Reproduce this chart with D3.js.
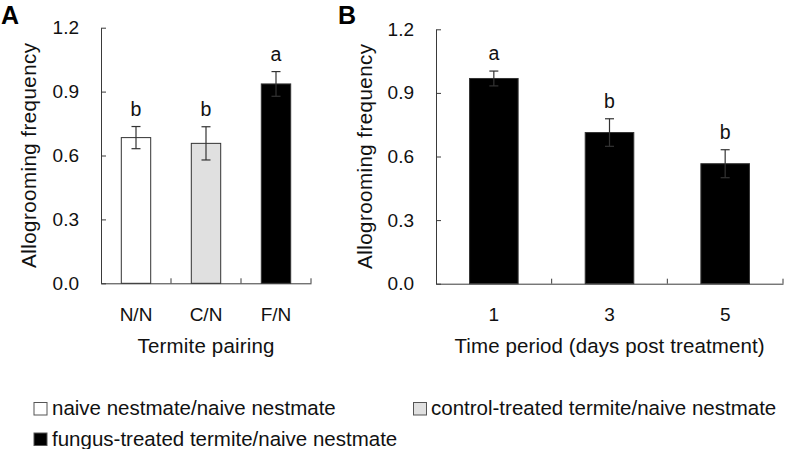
<!DOCTYPE html>
<html>
<head>
<meta charset="utf-8">
<script src="https://cdn.jsdelivr.net/npm/d3@7/dist/d3.min.js"></script>
<style>
  html, body { margin: 0; padding: 0; background: #fff; }
  svg { display: block; font-family: "Liberation Sans", Arial, sans-serif; }
</style>
</head>
<body>
<svg id="chart" width="787" height="449"></svg>
<script>
// ---- Data ----
const categoriesA = ["N/N", "C/N", "F/N"];
const meansA = [0.684, 0.657, 0.936];
const errorsA = [0.052, 0.078, 0.058];
const lettersA = ["b", "b", "a"];

const categoriesB = ["1", "3", "5"];
const meansB = [0.968, 0.713, 0.566];
const errorsB = [0.035, 0.065, 0.066];
const lettersB = ["a", "b", "b"];

const yTicks = [0, 0.3, 0.6, 0.9, 1.2];
const yTickLabels = ["0.0", "0.3", "0.6", "0.9", "1.2"];

const legendLabels = [
  "naive nestmate/naive nestmate",
  "control-treated termite/naive nestmate",
  "fungus-treated termite/naive nestmate"
];

// ---- Styles ----
const fillA = d3.scaleOrdinal().domain(categoriesA).range(["#ffffff", "#e0e0e0", "#000000"]);
const fillB = () => "#000000";
const axisColor = "#3a3a3a";

const svg = d3.select("#chart");

function panel(opts) {
  const { cats, means, errs, letters, fill, xRange, yRange, panelLetter, letterX, ylabX, xTitle, xTitleLen } = opts;
  const g = svg.append("g");
  const x = d3.scaleBand().domain(cats).range(xRange).padding(0);
  const y = d3.scaleLinear().domain([0, 1.2]).range(yRange);
  const bw = x.bandwidth() * 0.42;

  // bars
  g.selectAll("rect.bar").data(cats).join("rect")
    .attr("class", "bar")
    .attr("x", (c) => x(c) + (x.bandwidth() - bw) / 2)
    .attr("y", (c, i) => y(means[i]))
    .attr("width", bw)
    .attr("height", (c, i) => y(0) - y(means[i]))
    .attr("fill", (c) => fill(c))
    .attr("stroke", "#333")
    .attr("stroke-width", 1);

  // error bars
  const eg = g.selectAll("g.err").data(cats).join("g").attr("class", "err")
    .attr("stroke", "#333").attr("stroke-width", 1.2);
  eg.append("line")
    .attr("x1", (c) => x(c) + x.bandwidth() / 2)
    .attr("x2", (c) => x(c) + x.bandwidth() / 2)
    .attr("y1", (c, i) => y(means[i] - errs[i]))
    .attr("y2", (c, i) => y(means[i] + errs[i]));
  [1, -1].forEach((s) => {
    eg.append("line")
      .attr("x1", (c) => x(c) + x.bandwidth() / 2 - 4.5)
      .attr("x2", (c) => x(c) + x.bandwidth() / 2 + 4.5)
      .attr("y1", (c, i) => y(means[i] + s * errs[i]))
      .attr("y2", (c, i) => y(means[i] + s * errs[i]));
  });

  // significance letters
  g.selectAll("text.sig").data(cats).join("text")
    .attr("class", "sig")
    .attr("x", (c) => x(c) + x.bandwidth() / 2)
    .attr("y", (c, i) => y(means[i] + errs[i]) - 11)
    .attr("text-anchor", "middle")
    .attr("font-size", 19.5)
    .attr("fill", "#111")
    .text((c, i) => letters[i]);

  // y axis
  const yAxis = d3.axisLeft(y).tickValues(yTicks)
    .tickFormat((d, i) => yTickLabels[i])
    .tickSizeInner(-5).tickSizeOuter(0).tickPadding(22);
  const ya = g.append("g").attr("transform", `translate(${xRange[0]},0)`).call(yAxis);
  ya.select(".domain").attr("stroke", axisColor);
  ya.selectAll(".tick line").attr("stroke", axisColor);
  ya.selectAll(".tick text").attr("font-size", 19).attr("fill", "#111")
    .attr("font-family", "Liberation Sans, Arial, sans-serif");

  // x axis
  const xAxis = d3.axisBottom(x).tickSize(0).tickPadding(24).tickSizeOuter(0);
  const xa = g.append("g").attr("transform", `translate(0,${y(0)})`).call(xAxis);
  xa.select(".domain").attr("stroke", axisColor);
  xa.selectAll(".tick text").attr("font-size", 19).attr("fill", "#111")
    .attr("font-family", "Liberation Sans, Arial, sans-serif");
  // boundary ticks (pointing up, inside)
  const bounds = cats.slice(1).map((c) => x(c)).concat([xRange[1]]);
  g.selectAll("line.bt").data(bounds).join("line")
    .attr("class", "bt")
    .attr("x1", (d) => d).attr("x2", (d) => d)
    .attr("y1", y(0)).attr("y2", y(0) - 5)
    .attr("stroke", axisColor);

  // axis titles
  g.append("text")
    .attr("x", (xRange[0] + xRange[1]) / 2)
    .attr("y", 353)
    .attr("text-anchor", "middle")
    .attr("font-size", 20.5)
    .attr("fill", "#111")
    .attr("textLength", xTitleLen)
    .attr("lengthAdjust", "spacing")
    .text(xTitle);

  const yc = (yRange[0] + yRange[1]) / 2;
  g.append("text")
    .attr("transform", `translate(${ylabX},${yc}) rotate(-90)`)
    .attr("text-anchor", "middle")
    .attr("font-size", 20.5)
    .attr("fill", "#111")
    .attr("textLength", 225)
    .attr("lengthAdjust", "spacing")
    .text("Allogrooming frequency");

  // panel letter
  g.append("text")
    .attr("x", letterX).attr("y", 23.5)
    .attr("font-size", 25).attr("font-weight", "bold")
    .attr("fill", "#000")
    .text(panelLetter);
}

panel({
  cats: categoriesA, means: meansA, errs: errorsA, letters: lettersA, fill: fillA,
  xRange: [101, 311], yRange: [283.3, 27.7], panelLetter: "A", letterX: 1,
  ylabX: 36, xTitle: "Termite pairing", xTitleLen: 137
});
panel({
  cats: categoriesB, means: meansB, errs: errorsB, letters: lettersB, fill: fillB,
  xRange: [436, 783], yRange: [283.7, 29.3], panelLetter: "B", letterX: 338,
  ylabX: 372, xTitle: "Time period (days post treatment)", xTitleLen: 310
});

// ---- Legend ----
const legendPos = [
  { bx: 34, by: 402.5, tx: 52, ty: 415 },
  { bx: 413.5, by: 402.5, tx: 431, ty: 415 },
  { bx: 34, by: 433, tx: 52, ty: 445.5 }
];
const legendFill = ["#ffffff", "#e0e0e0", "#000000"];
const lg = svg.append("g");
lg.selectAll("rect").data(legendLabels).join("rect")
  .attr("x", (d, i) => legendPos[i].bx)
  .attr("y", (d, i) => legendPos[i].by)
  .attr("width", 13).attr("height", 12.5)
  .attr("fill", (d, i) => legendFill[i])
  .attr("stroke", "#555").attr("stroke-width", 1);
lg.selectAll("text").data(legendLabels).join("text")
  .attr("x", (d, i) => legendPos[i].tx)
  .attr("y", (d, i) => legendPos[i].ty)
  .attr("font-size", 20.5)
  .attr("fill", "#111")
  .text((d) => d);
</script>
</body>
</html>
